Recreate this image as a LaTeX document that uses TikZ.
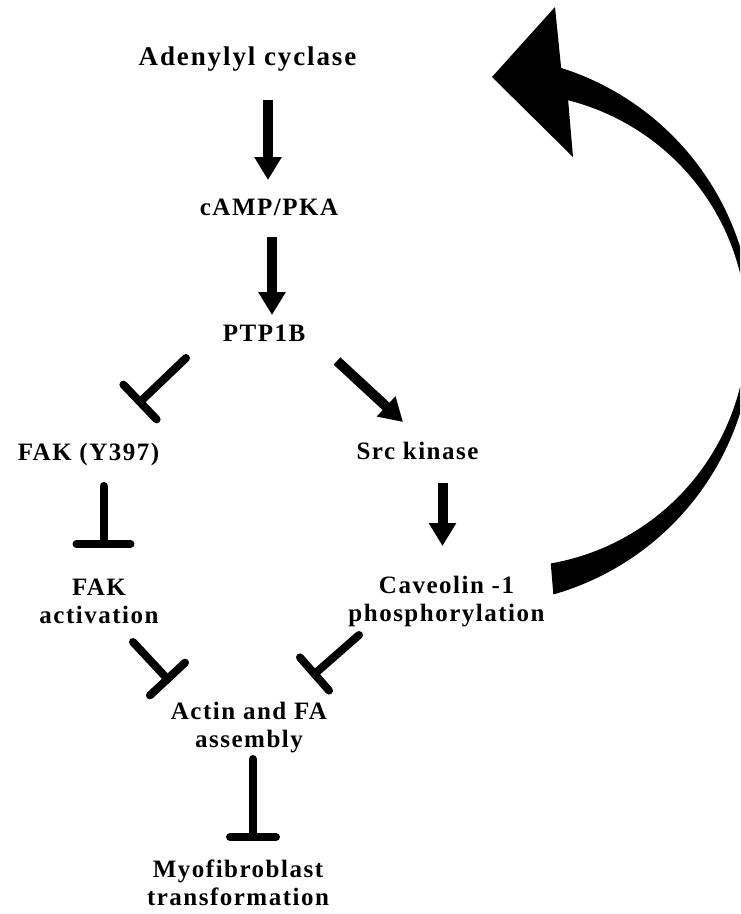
\documentclass[tikz,border=0pt]{standalone}
\usepackage{fontspec}
\setmainfont{Liberation Serif}[LetterSpace=6, Ligatures=CommonOff]
\usetikzlibrary{arrows.meta,calc}
\newcommand{\inhib}[3]{%
  \draw[inh] (#1) -- (#2);
  \draw[inh] ($(#2)!#3!90:(#1)$) -- ($(#2)!#3!-90:(#1)$);}
\begin{document}
\begin{tikzpicture}[x=1pt,y=-1pt,
  lbl/.style={font=\bfseries\fontsize{25}{28}\selectfont, inner sep=0pt, align=center, anchor=base},
  big/.style={font=\bfseries\fontsize{27}{30}\selectfont\addfontfeature{LetterSpace=7}},
  act/.style={line width=10pt, -{Triangle[width=26pt,length=23pt]}},
  inh/.style={line width=8pt, line cap=round},
]
\useasboundingbox (0,0) rectangle (740,914);
\fill[white] (0,0) rectangle (740,914);
\clip (0,0) rectangle (740,914);

% labels (two-line labels are placed at the baseline of their last line)
\node[lbl, big] (ac) at (247.5,65) {Adenylyl cyclase};
\node[lbl] (camp) at (269,215) {cAMP/PKA};
\node[lbl] (ptp) at (264,341) {PTP1B};
\node[lbl] (fak) at (88.5,460) {FAK (Y397)};
\node[lbl] (src) at (417.5,459) {Src kinase};
\node[lbl] (fakact) at (99,623) {FAK\\activation};
\node[lbl] (cav) at (446.5,621) {Caveolin -1\\phosphorylation};
\node[lbl] (actin) at (249,747) {Actin and FA\\assembly};
\node[lbl] (myo) at (238,905) {Myofibroblast\\transformation};

% connector end points
\coordinate (a1s) at (268,100);   \coordinate (a1e) at (268,180);
\coordinate (a2s) at (272,237);   \coordinate (a2e) at (272,315);
\coordinate (a3s) at (337,361);   \coordinate (a3e) at (403,422);
\coordinate (a4s) at (442.5,483); \coordinate (a4e) at (442.5,546);

\coordinate (t1s) at (186,358);   \coordinate (t1e) at (140,402);
\coordinate (t2s) at (103.5,486); \coordinate (t2e) at (103.5,544);
\coordinate (t3s) at (133,642);   \coordinate (t3e) at (167.5,679);
\coordinate (t4s) at (359,635);   \coordinate (t4e) at (314.5,674);
\coordinate (t5s) at (253,759);   \coordinate (t5e) at (253,837);

% activating arrows
\draw[act] (a1s) -- (a1e);
\draw[act] (a2s) -- (a2e);
\draw[act] (a3s) -- (a3e);
\draw[act] (a4s) -- (a4e);

% inhibitions
\inhib{t1s}{t1e}{24pt}
\inhib{t2s}{t2e}{27pt}
\inhib{t3s}{t3e}{24pt}
\inhib{t4s}{t4e}{22pt}
\inhib{t5s}{t5e}{23pt}

% big feedback arrow (Caveolin-1 phosphorylation -> Adenylyl cyclase)
\fill[black] plot[domain=74.1:-72.4, samples=90, variable=\t] ({478+275*cos(\t)},{330+275*sin(\t)})
  -- (555,7) -- (492,77) -- (573,157)
  -- plot[domain=-75.8:80.1, samples=90, variable=\t] ({510+237*cos(\t)},{330+237*sin(\t)})
  -- cycle;
\end{tikzpicture}
\end{document}
